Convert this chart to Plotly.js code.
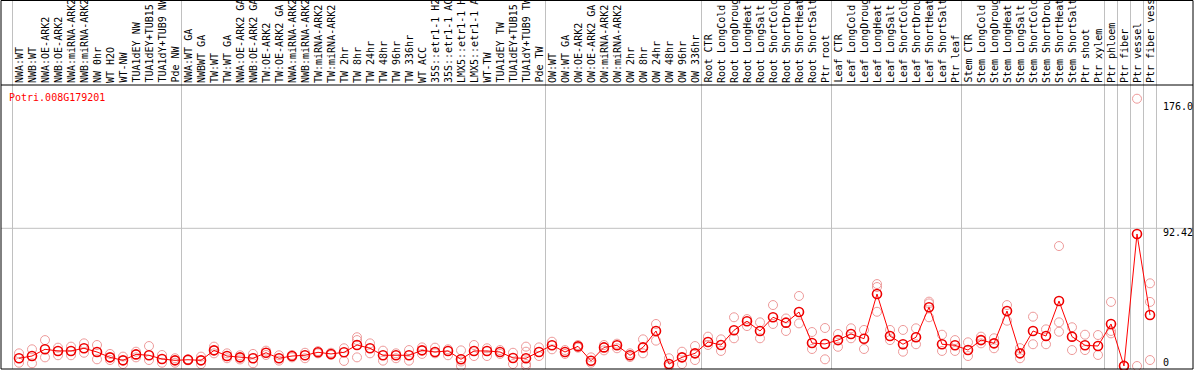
<!DOCTYPE html>
<html><head><meta charset="utf-8">
<script src="https://cdn.plot.ly/plotly-3.0.1.min.js"></script>
<style>html,body{margin:0;padding:0;background:#fff;overflow:hidden}#chart{width:1194px;height:370px}</style>
</head><body><div id="chart"></div>
<script>
const geneName = "Potri.008G179201";
const categories = [
"NWA:WT","NWB:WT","NWA:OE-ARK2","NWB:OE-ARK2","NWA:miRNA-ARK2","NWB:miRNA-ARK2","NW 0hr","WT H2O","WT-NW","TUA1dEY NW","TUA1dEY+TUB15 NW","TUA1dY+TUB9 NW","Pde NW",
"NWA:WT GA","NWBWT GA","TW:WT","TW:WT GA","NWA:OE-ARK2 GA","NWB:OE-ARK2 GA","TW:OE-ARK2","TW:OE-ARK2 GA","NWA:miRNA-ARK2 GA","NWB:miRNA-ARK2 GA","TW:miRNA-ARK2","TW:miRNA-ARK2 GA",
"TW 2hr","TW 8hr","TW 24hr","TW 48hr","TW 96hr","TW 336hr","WT ACC","35S::etr1-1 H2O","35S::etr1-1 ACC","LMX5::etr1-1 H2O","LMX5::etr1-1 ACC","WT-TW","TUA1dEY TW","TUA1dEY+TUB15 TW","TUA1dY+TUB9 TW","Pde TW",
"OW:WT","OW:WT GA","OW:OE-ARK2","OW:OE-ARK2 GA","OW:miRNA-ARK2","OW:miRNA-ARK2 GA","OW 2hr","OW 8hr","OW 24hr","OW 48hr","OW 96hr","OW 336hr",
"Root CTR","Root LongCold","Root LongDrought","Root LongHeat","Root LongSalt","Root ShortCold","Root ShortDrought","Root ShortHeat","Root ShortSalt","Ptr root",
"Leaf CTR","Leaf LongCold","Leaf LongDrought","Leaf LongHeat","Leaf LongSalt","Leaf ShortCold","Leaf ShortDrought","Leaf ShortHeat","Leaf ShortSalt","Ptr leaf",
"Stem CTR","Stem LongCold","Stem LongDrought","Stem LongHeat","Stem LongSalt","Stem ShortCold","Stem ShortDrought","Stem ShortHeat","Stem ShortSalt","Ptr shoot","Ptr xylem",
"Ptr phloem","Ptr fiber","Ptr vessel","Ptr fiber vessel"
];
const meanValues = [
5.2,6.7,11.2,10.1,10.1,11.9,9.4,5.8,3.8,7.8,7.2,4.7,3.8,
4.2,3.8,10.5,6.7,5.8,5.2,8.9,5.2,6.7,7.2,9.2,8.1,9.2,14.1,11.9,7.2,7.2,7.2,10.5,9.4,10.1,4.5,10.1,10.1,9.4,5.4,5.2,9.4,
13.9,9.4,13.2,3.5,12.5,13.9,7.2,12.5,23.5,1.3,5.8,8.5,
16.1,14.1,24.0,30.0,23.5,32.7,29.1,36.2,15.4,14.8,
17.4,21.5,18.3,48.3,20.1,14.6,19.3,39.4,14.6,13.9,
10.7,17.4,15.2,36.9,8.5,23.5,20.1,43.6,19.7,13.9,13.4,
28.2,0.0,88.6,34.2
];
const repHigh = [
8.5,11.2,17.4,12.3,13.0,15.2,14.1,8.1,6.3,9.6,13.4,7.4,5.2,
4.6,6.3,13.0,8.5,7.2,8.1,10.3,7.2,7.4,8.9,10.0,8.9,11.9,19.3,15.2,10.3,8.5,10.7,12.5,12.3,11.2,10.5,14.1,11.9,10.7,8.9,13.0,12.5,
16.3,10.7,14.1,5.8,14.1,15.0,8.5,17.9,28.2,5.2,9.6,13.4,
19.7,17.9,32.7,31.5,29.3,40.9,31.9,47.0,22.8,25.5,
21.5,25.3,24.2,55.0,24.2,24.2,25.3,43.2,21.0,17.4,
15.9,19.7,18.6,40.9,12.0,33.1,24.6,80.5,26.0,21.0,20.8,
43.0,0.5,179.4,55.5
];
const repLow = [
2.2,1.8,5.8,7.2,7.2,8.9,4.5,4.0,1.3,5.8,4.0,2.2,2.2,
3.8,1.3,8.5,5.2,4.4,1.8,7.4,3.6,5.8,5.2,8.5,7.4,3.4,5.8,8.5,3.6,5.2,3.6,8.1,8.5,7.2,0.0,6.7,6.7,8.1,1.3,0.0,6.7,
11.2,8.1,12.3,2.2,10.5,11.9,6.0,8.5,17.0,0.0,1.3,4.0,
14.1,10.1,18.6,26.8,18.6,28.2,23.5,28.6,11.4,4.5,
12.9,18.6,11.4,36.4,17.4,9.6,14.6,32.7,10.1,10.1,
6.7,15.2,11.9,30.4,5.2,14.6,14.6,29.3,10.7,10.7,7.4,
21.9,0.0,0.0,4.0
];
// additional replicates: [category number, value]
const repExtra = [[27,17.4],[35,3.0],[40,9.6],[40,1.3],[67,53.0],[71,42.0],[81,23.0],[85,23.5],[88,43.0]];
const groupBoundaries = [0.5,13.5,41.5,53.5,63.5,73.5,84.5,85.5,86.5,87.5,88.5];
const gridLevel = 92.42;
const axisLabelValues = [176.0, 92.42, 0];
const axisLabelTexts = ["176.0", "92.42", "0"];

const catNums = categories.map((c,i)=>i+1);
const rx = [], ry = [];
catNums.forEach((n,i)=>{ rx.push(n); ry.push(repHigh[i]); rx.push(n); ry.push(repLow[i]); });
repExtra.forEach(p=>{ rx.push(p[0]); ry.push(p[1]); });

const MONO = "DejaVu Sans Mono, Liberation Mono, monospace";
const W = 1194, H = 370, mL = 1, mR = 1, mT = 85, mB = 1;
const pw = W - mL - mR, ph = H - mT - mB;
const topPaper = 1 + (mT - 0.5) / ph;

const shapes = [];
groupBoundaries.forEach(b=>{
  shapes.push({type:'line', xref:'x', yref:'paper', x0:b, x1:b, y0:0, y1:topPaper, line:{color:'#c0c0c0', width:1}, layer:'below'});
});
shapes.push({type:'line', xref:'paper', yref:'y', x0:0, x1:1, y0:gridLevel, y1:gridLevel, line:{color:'#c0c0c0', width:1}, layer:'below'});
// frame
shapes.push({type:'line', xref:'paper', yref:'paper', x0:0, x1:0, y0:0, y1:topPaper, line:{color:'#000', width:1}});
shapes.push({type:'line', xref:'paper', yref:'paper', x0:1, x1:1, y0:0, y1:topPaper, line:{color:'#000', width:1}});
shapes.push({type:'line', xref:'paper', yref:'paper', x0:0, x1:1, y0:0, y1:0, line:{color:'#000', width:1}});
shapes.push({type:'line', xref:'paper', yref:'paper', x0:0, x1:1, y0:1, y1:1, line:{color:'#000', width:1}});
shapes.push({type:'line', xref:'paper', yref:'paper', x0:0, x1:1, y0:topPaper, y1:topPaper, line:{color:'#000', width:1}});

const annotations = [];
categories.forEach((c,i)=>{
  annotations.push({text:c, xref:'x', yref:'paper', x:i+1, y:1, xanchor:'center', yanchor:'bottom', textangle:-90, showarrow:false, font:{family:MONO, size:10, color:'#000'}, yshift:0});
});
const labelShift = [-3, -4, 4];
axisLabelValues.forEach((v,i)=>{
  annotations.push({text:axisLabelTexts[i], xref:'paper', yref:'y', x:(1161-mL)/pw, y:v, xanchor:'left', yanchor:'middle', showarrow:false, font:{family:MONO, size:10, color:'#000'}, yshift:labelShift[i]});
});
annotations.push({text:geneName, xref:'paper', yref:'paper', x:(7-mL)/pw, y:(H - mB - 90)/ph, xanchor:'left', yanchor:'top', showarrow:false, font:{family:MONO, size:10, color:'#ff0000'}});

const xr0 = 1 - (19 - mL)/13;
const xr1 = xr0 + pw/13;
const pxPerUnit = (366 - 228.3) / gridLevel;
const yr1 = (366 - mT) / pxPerUnit;
const yr0 = -(H - mB - 366) / pxPerUnit;

const traces = [
  {type:'scatter', mode:'markers', x:rx, y:ry, marker:{symbol:'circle-open', size:9, color:'#ee9a9a', line:{width:1}}, hoverinfo:'skip', cliponaxis:false},
  {type:'scatter', mode:'lines+markers', x:catNums, y:meanValues, line:{color:'#ff0000', width:1}, marker:{symbol:'circle-open', size:9, color:'#ee0000', line:{width:1.6}}, cliponaxis:false}
];
const layout = {
  width:W, height:H, margin:{l:mL, r:mR, t:mT, b:mB, pad:0},
  paper_bgcolor:'#fff', plot_bgcolor:'#fff', showlegend:false,
  xaxis:{range:[xr0, xr1], showgrid:false, zeroline:false, showticklabels:false, ticks:'', showline:false, fixedrange:true},
  yaxis:{range:[yr0, yr1], showgrid:false, zeroline:false, showticklabels:false, ticks:'', showline:false, fixedrange:true},
  shapes:shapes, annotations:annotations
};
Plotly.newPlot('chart', traces, layout, {staticPlot:true, displayModeBar:false});
</script>
</body></html>
